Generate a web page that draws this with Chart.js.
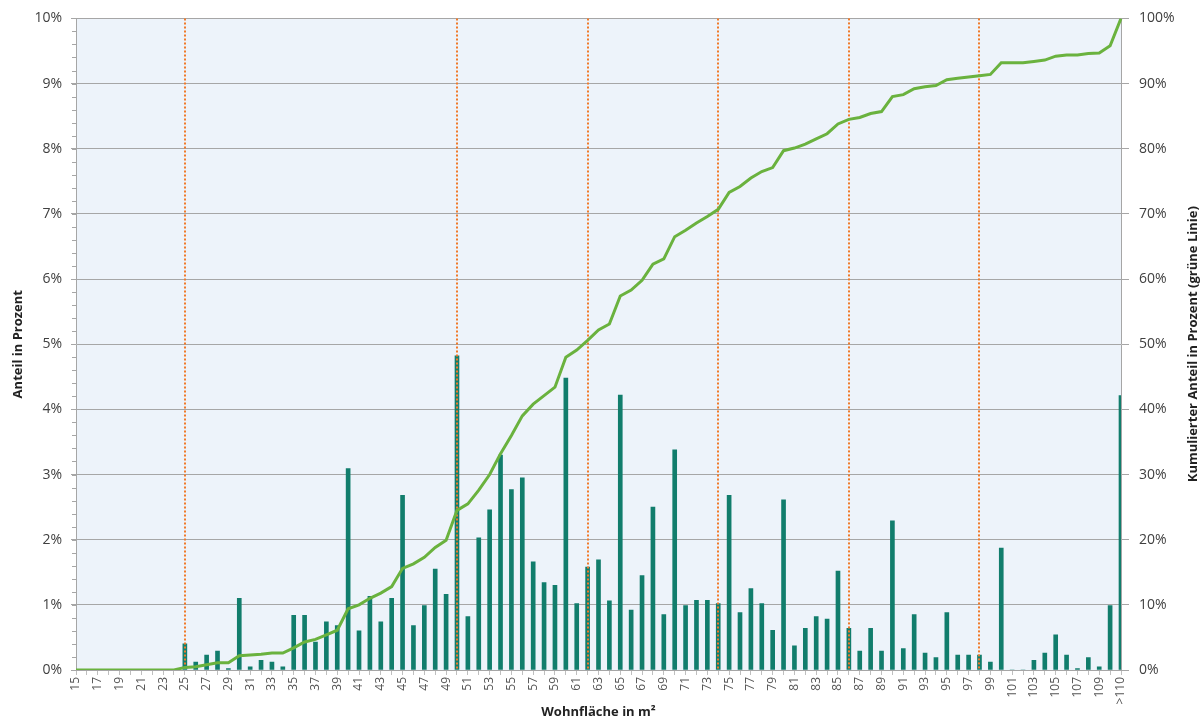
<!DOCTYPE html>
<html lang="de">
<head>
<meta charset="utf-8">
<title>Wohnfläche – Anteil in Prozent</title>
<script src="https://cdn.jsdelivr.net/npm/chart.js@4.4.1/dist/chart.umd.min.js"></script>
<style>
  html, body { margin: 0; padding: 0; background: #fff; }
  #wrap { width: 1204px; height: 722px; }
</style>
</head>
<body>
<div id="wrap"><canvas id="chart" width="1204" height="722"></canvas></div>
<script>
// Kategorien: Wohnfläche in m²
const kategorien = [
  '15','16','17','18','19','20','21','22','23','24','25','26','27','28','29','30','31','32','33','34',
  '35','36','37','38','39','40','41','42','43','44','45','46','47','48','49','50','51','52','53','54',
  '55','56','57','58','59','60','61','62','63','64','65','66','67','68','69','70','71','72','73','74',
  '75','76','77','78','79','80','81','82','83','84','85','86','87','88','89','90','91','92','93','94',
  '95','96','97','98','99','100','101','102','103','104','105','106','107','108','109','110','>110'
];

// Anteil in Prozent (Balken)
const anteil = [
  0, 0, 0, 0, 0, 0, 0, 0, 0, 0, 0.40, 0.12, 0.23, 0.29, 0.02, 1.10, 0.05, 0.15, 0.12, 0.05,
  0.84, 0.84, 0.43, 0.74, 0.68, 3.09, 0.60, 1.13, 0.74, 1.10, 2.68, 0.68, 0.99, 1.55, 1.16, 4.82, 0.82, 2.03, 2.46, 3.30,
  2.77, 2.95, 1.66, 1.34, 1.30, 4.48, 1.02, 1.58, 1.69, 1.06, 4.22, 0.92, 1.45, 2.50, 0.85, 3.38, 0.99, 1.07, 1.07, 1.02,
  2.68, 0.88, 1.25, 1.02, 0.61, 2.61, 0.37, 0.64, 0.82, 0.78, 1.52, 0.64, 0.29, 0.64, 0.29, 2.29, 0.33, 0.85, 0.26, 0.19,
  0.88, 0.23, 0.23, 0.23, 0.12, 1.87, 0, 0, 0.15, 0.26, 0.54, 0.23, 0.02, 0.19, 0.05, 0.99, 4.21
];

// Kumulierter Anteil in Prozent (grüne Linie)
const kumuliert = [
  0, 0, 0, 0, 0, 0, 0, 0, 0, 0, 0.4, 0.5, 0.8, 1.1, 1.1, 2.2, 2.3, 2.4, 2.6, 2.6,
  3.4, 4.3, 4.7, 5.4, 6.1, 9.4, 10.0, 11.0, 11.8, 12.8, 15.6, 16.3, 17.3, 18.8, 19.9, 24.5, 25.5, 27.6, 30.0, 33.2,
  36.0, 39.0, 40.8, 42.1, 43.4, 48.0, 49.1, 50.6, 52.2, 53.1, 57.4, 58.3, 59.8, 62.3, 63.1, 66.5, 67.5, 68.6, 69.6, 70.7,
  73.3, 74.2, 75.5, 76.5, 77.1, 79.7, 80.1, 80.7, 81.5, 82.3, 83.8, 84.5, 84.8, 85.4, 85.7, 88.0, 88.3, 89.2, 89.5, 89.7,
  90.6, 90.8, 91.0, 91.2, 91.4, 93.2, 93.2, 93.2, 93.4, 93.6, 94.2, 94.4, 94.4, 94.6, 94.7, 95.8, 100
];

// senkrechte gepunktete Linien
const markierungen = ['25', '50', '62', '74', '86', '98'];

Chart.defaults.font.family = "'Open Sans', sans-serif";

// Hintergrund der Zeichenfläche
const hintergrund = {
  id: 'hintergrund',
  beforeDraw(chart) {
    const { ctx, chartArea: a } = chart;
    ctx.save();
    ctx.fillStyle = '#EDF3FA';
    ctx.fillRect(a.left, a.top, a.right - a.left, a.bottom - a.top);
    ctx.restore();
  }
};

// orange gepunktete Linien über den Balken, unter der grünen Linie
const markierungsLinien = {
  id: 'markierungsLinien',
  afterDatasetDraw(chart, args) {
    if (args.index !== 0) return;
    const { ctx, chartArea: a, scales } = chart;
    ctx.save();
    ctx.strokeStyle = '#F07A2A';
    ctx.lineWidth = 2;
    ctx.setLineDash([2, 2]);
    markierungen.forEach(k => {
      const x = Math.round(scales.x.getPixelForValue(kategorien.indexOf(k)));
      ctx.beginPath();
      ctx.moveTo(x, a.top);
      ctx.lineTo(x, a.bottom);
      ctx.stroke();
    });
    ctx.restore();
  }
};

// Hilfsstriche links und Titel der rechten Achse
const extras = {
  id: 'extras',
  afterDraw(chart) {
    const { ctx, chartArea: a, scales } = chart;
    ctx.save();
    ctx.strokeStyle = '#A6A6A6';
    ctx.lineWidth = 1;
    for (let v = 0.2; v < 10; v += 0.2) {
      const y = Math.round(scales.y.getPixelForValue(v)) + 0.5;
      ctx.beginPath();
      ctx.moveTo(a.left - 4, y);
      ctx.lineTo(a.left, y);
      ctx.stroke();
    }
    ctx.translate(1193, (a.top + a.bottom) / 2);
    ctx.rotate(-Math.PI / 2);
    ctx.fillStyle = '#222';
    ctx.font = "bold 13px 'Open Sans', sans-serif";
    ctx.textAlign = 'center';
    ctx.textBaseline = 'middle';
    ctx.fillText('Kumulierter Anteil in Prozent (grüne Linie)', 0, 0);
    ctx.restore();
  }
};

const ctx = document.getElementById('chart').getContext('2d');
new Chart(ctx, {
  type: 'bar',
  data: {
    labels: kategorien,
    datasets: [
      {
        type: 'bar',
        label: 'Anteil in Prozent',
        data: anteil,
        yAxisID: 'y',
        backgroundColor: '#117D6C',
        barThickness: 4,
        order: 1
      },
      {
        type: 'line',
        label: 'Kumulierter Anteil',
        data: kumuliert,
        yAxisID: 'y2',
        borderColor: '#6AB23E',
        borderWidth: 3,
        pointRadius: 0,
        tension: 0,
        fill: false,
        order: 0
      }
    ]
  },
  options: {
    responsive: false,
    animation: false,
    layout: { padding: { top: 18, left: 0, right: 0, bottom: 0 } },
    plugins: {
      legend: { display: false },
      tooltip: { enabled: false }
    },
    scales: {
      x: {
        offset: false,
        grid: { drawOnChartArea: false, offset: false, color: '#BFBFBF', tickLength: 5 },
        border: { color: '#A6A6A6' },
        ticks: {
          autoSkip: false,
          minRotation: 90,
          maxRotation: 90,
          padding: 2,
          color: '#555',
          font: { size: 12 },
          callback(v, i) { return i % 2 === 0 ? this.getLabelForValue(v) : ''; }
        },
        title: {
          display: true,
          text: 'Wohnfläche in m²',
          color: '#222',
          font: { size: 13, weight: 'bold' },
          padding: { top: 0, bottom: 2 }
        },
        afterFit(s) { s.height = 52; }
      },
      y: {
        position: 'left',
        min: 0,
        max: 10,
        grid: { color: '#A6A6A6', tickLength: 5 },
        border: { color: '#A6A6A6' },
        ticks: {
          stepSize: 1,
          padding: 9,
          color: '#404040',
          font: { size: 14 },
          callback: v => v + '%'
        },
        title: {
          display: true,
          text: 'Anteil in Prozent',
          color: '#222',
          font: { size: 13, weight: 'bold' },
          padding: { top: 10, bottom: 0 }
        },
        afterFit(s) { s.width = 76; }
      },
      y2: {
        position: 'right',
        min: 0,
        max: 100,
        grid: { drawOnChartArea: false, color: '#A6A6A6', tickLength: 8 },
        border: { color: '#A6A6A6' },
        ticks: {
          stepSize: 10,
          padding: 10,
          color: '#404040',
          font: { size: 14 },
          callback: v => v + '%'
        },
        afterFit(s) { s.width = 83; }
      }
    }
  },
  plugins: [hintergrund, markierungsLinien, extras]
});
</script>
</body>
</html>
